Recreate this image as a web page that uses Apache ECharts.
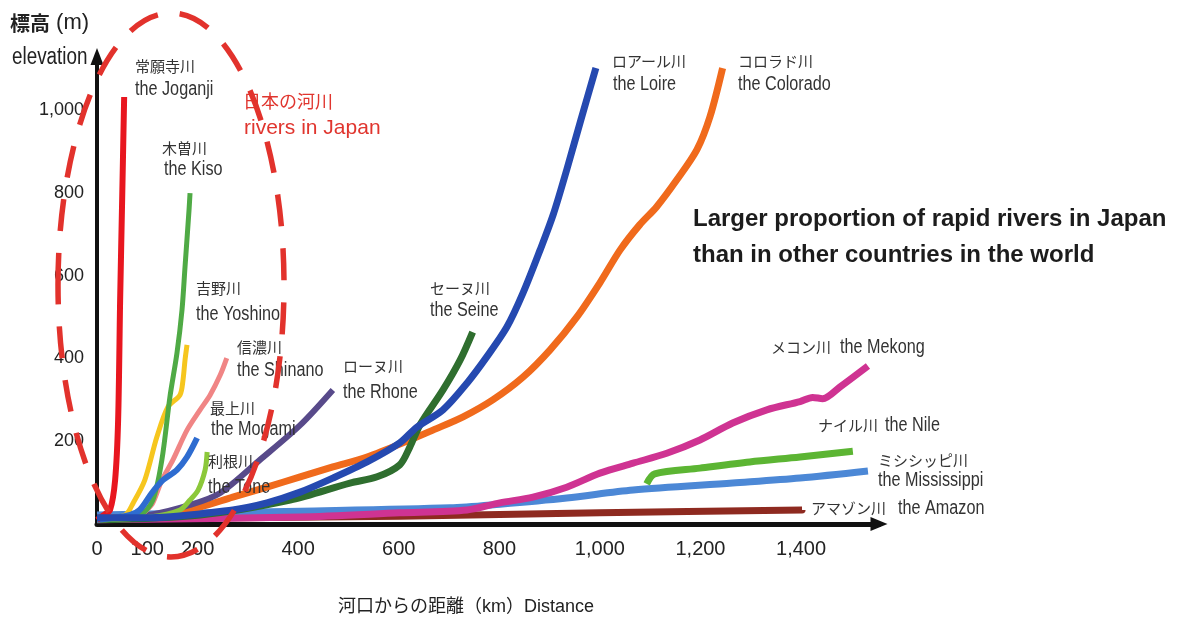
<!DOCTYPE html>
<html>
<head>
<meta charset="utf-8">
<script src="https://cdn.jsdelivr.net/npm/echarts@6/dist/echarts.min.js"></script>
<style>
  html, body { margin: 0; padding: 0; background: #fff; }
  #main { width: 1202px; height: 623px; }
</style>
</head>
<body>
<div id="main"></div>
<script>
// [河口からの距離 km, 標高 m]
var joganji = [[0, 10], [14, 22], [26, 34], [36, 106], [42, 251], [46, 541], [50, 783], [54, 1032]];
var kiso = [[0, 10], [85, 22], [111, 58], [129, 155], [145, 307], [159, 413], [169, 517], [175, 621], [183, 759], [185, 800]];
var yoshino = [[0, 10], [56, 22], [72, 51], [95, 106], [119, 210], [141, 283], [165, 312], [171, 348], [175, 396], [179, 433]];
var shinano = [[0, 10], [85, 22], [99, 34], [111, 51], [129, 106], [151, 155], [179, 227], [205, 276], [225, 312], [245, 360], [258, 401]];
var mogami = [[0, 10], [66, 22], [85, 34], [109, 75], [131, 106], [159, 131], [179, 162], [199, 208]];
var tone = [[0, 10], [105, 17], [165, 34], [185, 58], [201, 82], [215, 131], [219, 174]];
var rhone = [[0, 10], [105, 22], [185, 46], [245, 75], [324, 155], [404, 239], [469, 324]];
var seine = [[0, 10], [205, 22], [384, 58], [503, 99], [557, 114], [602, 143], [622, 186], [642, 239], [688, 324], [722, 396], [747, 464]];
var loire = [[0, 15], [105, 15], [270, 34], [338, 51], [404, 77], [469, 111], [537, 150], [602, 196], [636, 234], [688, 276], [736, 341], [775, 404], [815, 476], [847, 558], [881, 662], [907, 747], [934, 856], [962, 976], [992, 1102]];
var colorado = [[0, 15], [105, 15], [205, 41], [270, 65], [338, 89], [404, 114], [469, 138], [537, 162], [622, 203], [668, 227], [728, 259], [787, 300], [847, 355], [901, 421], [954, 500], [1000, 583], [1040, 662], [1079, 723], [1113, 767], [1153, 832], [1193, 905], [1219, 985], [1244, 1102]];
var mekong = [[0, 10], [404, 17], [602, 27], [736, 34], [801, 51], [867, 65], [934, 89], [1000, 123], [1066, 147], [1133, 171], [1199, 203], [1264, 244], [1332, 276], [1398, 296], [1423, 306], [1443, 303], [1477, 331], [1533, 382]];
var nile = [[1093, 97], [1109, 121], [1199, 135], [1298, 150], [1398, 162], [1503, 176]];
var mississippi = [[0, 22], [404, 31], [702, 39], [801, 48], [934, 63], [1066, 82], [1264, 99], [1398, 111], [1533, 128]];
var amazon = [[0, 12], [602, 19], [1000, 27], [1402, 34]];

var xTicks = [0, 100, 200, 400, 600, 800, 1000, 1200, 1400];
var yTicks = [200, 400, 600, 800, 1000];

var SANS = "'Liberation Sans', 'Noto Sans CJK JP', sans-serif";
var CJK = "'Noto Sans CJK JP', sans-serif";
var NARROW_X = 0.81; // 元図の欧文は細身の書体

// 描画順 (後ろ → 前)
var rivers = [
  { name: 'アマゾン川', data: amazon, color: '#8e2a20', width: 7 },
  { name: 'ミシシッピ川', data: mississippi, color: '#4c88d6', width: 7 },
  { name: 'ナイル川', data: nile, color: '#5cb533', width: 7 },
  { name: 'メコン川', data: mekong, color: '#cf3392', width: 7 },
  { name: 'コロラド川', data: colorado, color: '#f06a1c', width: 7 },
  { name: 'セーヌ川', data: seine, color: '#2f6e2f', width: 7 },
  { name: 'ローヌ川', data: rhone, color: '#584a8a', width: 6 },
  { name: '利根川', data: tone, color: '#8cc83a', width: 5 },
  { name: '信濃川', data: shinano, color: '#f08585', width: 5 },
  { name: '吉野川', data: yoshino, color: '#f6c61e', width: 5 },
  { name: '木曽川', data: kiso, color: '#4faa45', width: 5 },
  { name: '最上川', data: mogami, color: '#2e6cd0', width: 6 },
  { name: '常願寺川', data: joganji, color: '#e8161f', width: 6 },
  { name: 'ロアール川', data: loire, color: '#2549b0', width: 7 }
];

function fmt(v) {
  return String(v).replace(/\B(?=(\d{3})+(?!\d))/g, ',');
}

function cjk(x, y, text) {
  return { type: 'text', x: x, y: y, z: 60,
    style: { text: text, fill: '#333', font: '15px ' + CJK, verticalAlign: 'middle' } };
}
function eng(x, y, text) {
  return { type: 'text', x: x, y: y, z: 60, scaleX: NARROW_X,
    style: { text: text, fill: '#333', font: '20px ' + SANS, verticalAlign: 'middle' } };
}

var labels = [
  cjk(135, 66, '常願寺川'), eng(135, 89, 'the Joganji'),
  cjk(162, 148, '木曽川'), eng(164, 169, 'the Kiso'),
  cjk(196, 288, '吉野川'), eng(196, 314, 'the Yoshino'),
  cjk(237, 347, '信濃川'), eng(237, 370, 'the Shinano'),
  cjk(210, 408, '最上川'), eng(211, 429, 'the Mogami'),
  cjk(208, 461, '利根川'), eng(208, 487, 'the Tone'),
  cjk(343, 366, 'ローヌ川'), eng(343, 392, 'the Rhone'),
  cjk(430, 288, 'セーヌ川'), eng(430, 310, 'the Seine'),
  cjk(612, 61, 'ロアール川'), eng(613, 84, 'the Loire'),
  cjk(738, 61, 'コロラド川'), eng(738, 84, 'the Colorado'),
  cjk(771, 347, 'メコン川'), eng(840, 347, 'the Mekong'),
  cjk(818, 425, 'ナイル川'), eng(885, 425, 'the Nile'),
  cjk(878, 460, 'ミシシッピ川'), eng(878, 480, 'the Mississippi'),
  cjk(811, 508, 'アマゾン川'), eng(898, 508, 'the Amazon')
];

var chart = echarts.init(document.getElementById('main'));
chart.setOption({
  animation: false,
  backgroundColor: '#fff',
  grid: { left: 97, right: 323, top: 56.5, bottom: 99 },
  xAxis: {
    type: 'value', min: 0, max: 1555,
    axisLine: { show: true, onZero: false, lineStyle: { color: '#111', width: 5 },
      symbol: ['none', 'triangle'], symbolSize: [14, 17] },
    axisTick: { show: false },
    splitLine: { show: false },
    axisLabel: { customValues: xTicks, formatter: fmt, color: '#222', fontSize: 20, fontFamily: SANS, margin: 15 },
    name: '河口からの距離（km）Distance',
    nameLocation: 'middle', nameGap: 74,
    nameTextStyle: { color: '#222', fontSize: 18, fontFamily: SANS, padding: [0, 44, 0, 0] }
  },
  yAxis: {
    type: 'value', min: 0, max: 1130,
    axisLine: { show: true, onZero: false, lineStyle: { color: '#111', width: 4 },
      symbol: ['none', 'triangle'], symbolSize: [13, 17] },
    axisTick: { show: false },
    splitLine: { show: false },
    axisLabel: { customValues: yTicks, formatter: fmt, color: '#222', fontSize: 18, fontFamily: SANS, margin: 13 }
  },
  series: rivers.map(function (r, i) {
    return {
      name: r.name, type: 'line', data: r.data,
      showSymbol: false, symbol: 'none', smooth: 0.3, silent: true,
      z: 2 + i * 0.01,
      lineStyle: { color: r.color, width: r.width, join: 'round' }
    };
  }),
  graphic: [
    {
      type: 'text', x: 10, y: 23, z: 60,
      style: {
        text: '{a|標高}{b| (m)}', verticalAlign: 'middle',
        rich: {
          a: { fontSize: 20, fontWeight: 'bold', fontFamily: CJK, fill: '#222' },
          b: { fontSize: 22, fontFamily: SANS, fill: '#222' }
        }
      }
    },
    { type: 'text', x: 12, y: 58, z: 60, scaleX: 0.82,
      style: { text: 'elevation', fill: '#222', font: '23px ' + SANS, verticalAlign: 'middle' } },
    { type: 'text', x: 243, y: 101, z: 60,
      style: { text: '日本の河川', fill: '#e0352e', font: '18px ' + CJK, verticalAlign: 'middle' } },
    { type: 'text', x: 244, y: 128, z: 60,
      style: { text: 'rivers in Japan', fill: '#e0352e', font: '21px ' + SANS, verticalAlign: 'middle' } },
    { type: 'text', x: 693, y: 219.5, z: 60,
      style: { text: 'Larger proportion of rapid rivers in Japan', fill: '#1c1c1c', font: 'bold 24px ' + SANS, verticalAlign: 'middle' } },
    { type: 'text', x: 693, y: 255, z: 60,
      style: { text: 'than in other countries in the world', fill: '#1c1c1c', font: 'bold 24px ' + SANS, verticalAlign: 'middle' } },
    {
      type: 'ellipse', z: 100,
      shape: { cx: 171, cy: 285, rx: 113, ry: 272 },
      style: { fill: 'none', stroke: '#e2322c', lineWidth: 5.5, lineDash: [32, 22] }
    }
  ].concat(labels)
});
</script>
</body>
</html>
